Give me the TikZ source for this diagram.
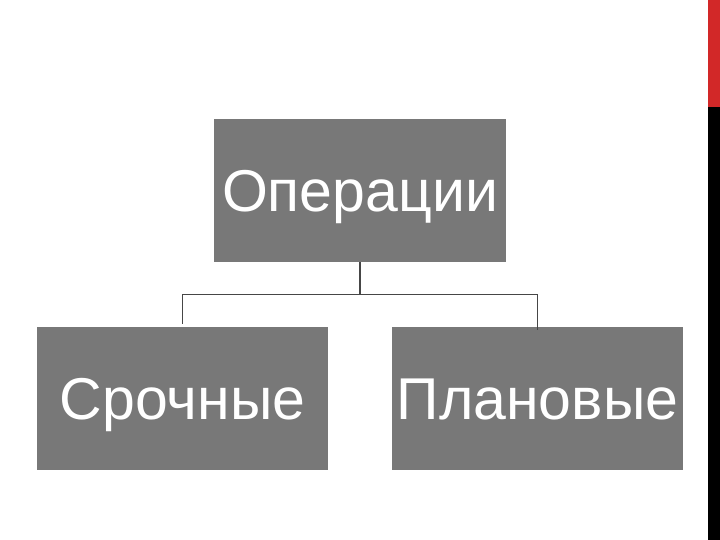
\documentclass[tikz,border=0pt]{standalone}
\usepackage{fontspec}
\setmainfont{Liberation Sans}
\definecolor{boxgray}{RGB}{120,120,120}
\definecolor{linegray}{RGB}{70,70,70}
\definecolor{barred}{RGB}{210,40,40}
\begin{document}
\begin{tikzpicture}[x=1pt,y=-1pt,
  box/.style={fill=boxgray,draw=none,inner sep=0pt,text=white,
    text height=42pt,text depth=0pt,
    font=\fontsize{59}{64}\selectfont},
  conn/.style={draw=linegray,line width=1.6pt}]
\useasboundingbox (0,0) rectangle (720,540);
\fill[white] (0,0) rectangle (720,540);
\fill[barred] (708,0) rectangle (720,107);
\fill[black] (708,107) rectangle (720,540);
\node[box,minimum width=292pt,minimum height=143pt] (top) at (360,190.5) {Операции};
\node[box,minimum width=291pt,minimum height=143pt] (left) at (182.5,398.5) {Срочные};
\node[box,minimum width=291pt,minimum height=143pt] (right) at (537.5,398.5) {Плановые};
\coordinate (mid) at (360,294.5);
\draw[conn] (top.south) -- (mid);
\draw[conn] (left.north) ++(0,-3) |- (mid) -| ([yshift=-3pt]right.north);
\end{tikzpicture}
\end{document}
